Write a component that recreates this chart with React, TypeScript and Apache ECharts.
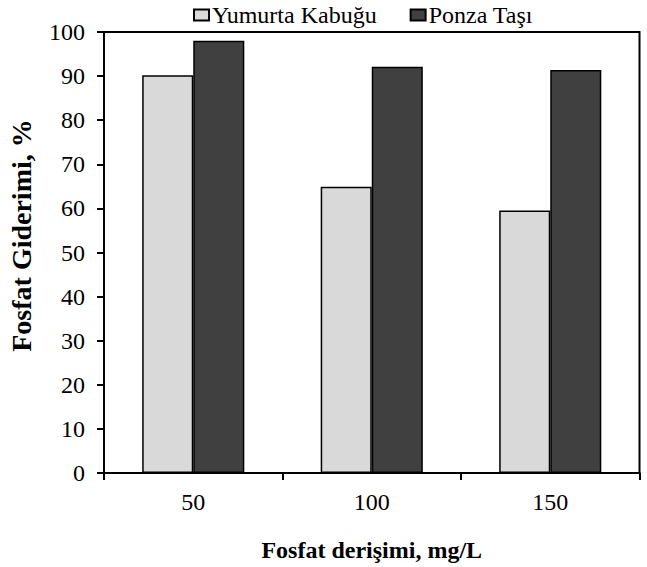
import React, { useEffect, useRef } from "react";
import * as echarts from "echarts";

const categories = ["50", "100", "150"];
const seriesNames = ["Yumurta Kabuğu", "Ponza Taşı"];
const yumurtaValues = [90.2, 64.9, 59.5];
const ponzaValues = [98.0, 92.1, 91.4];
const yTicks = { min: 0, max: 100, interval: 10 };

const FONT = "Liberation Serif";

export default function App() {
  const ref = useRef<HTMLDivElement>(null);
  useEffect(() => {
    if (!ref.current) return;
    const chart = echarts.init(ref.current, null, { renderer: "svg" });
    chart.setOption({
      animation: false,
      backgroundColor: "#ffffff",
      textStyle: { fontFamily: FONT, color: "#000" },
      legend: {
        data: seriesNames,
        left: 193,
        top: 3,
        padding: 0,
        itemWidth: 15,
        itemHeight: 11,
        itemGap: 33,
        icon: "rect",
        textStyle: { fontFamily: FONT, fontSize: 24, color: "#000", padding: [0, 0, 0, -2] },
      },
      grid: {
        left: 104,
        right: 7.5,
        top: 32,
        bottom: 94,
        show: true,
        borderColor: "#000",
        borderWidth: 2,
        backgroundColor: "transparent",
        containLabel: false,
        outerBoundsMode: "none",
      },
      xAxis: {
        type: "category",
        data: categories,
        name: "Fosfat derişimi, mg/L",
        nameLocation: "middle",
        nameGap: 65,
        nameTextStyle: { fontFamily: FONT, fontSize: 24, fontWeight: "bold", color: "#000" },
        axisLine: { lineStyle: { color: "#000", width: 2 } },
        axisTick: { show: true, alignWithLabel: false, length: 7, lineStyle: { color: "#000", width: 2 } },
        axisLabel: { fontFamily: FONT, fontSize: 24, color: "#000", margin: 17 },
      },
      yAxis: {
        type: "value",
        min: yTicks.min,
        max: yTicks.max,
        interval: yTicks.interval,
        name: "Fosfat Giderimi, %",
        nameLocation: "middle",
        nameRotate: 90,
        nameGap: 69,
        nameTextStyle: { fontFamily: FONT, fontSize: 28, fontWeight: "bold", color: "#000", padding: [0, 0, 0, 34] },
        splitLine: { show: false },
        axisLine: { show: true, lineStyle: { color: "#000", width: 2 } },
        axisTick: { show: true, length: 7, lineStyle: { color: "#000", width: 2 } },
        axisLabel: { fontFamily: FONT, fontSize: 24, color: "#000", margin: 19 },
      },
      series: [
        {
          name: seriesNames[0],
          type: "bar",
          data: yumurtaValues,
          barWidth: "28.6%",
          barGap: "0%",
          itemStyle: { color: "#d9d9d9", borderColor: "#000", borderWidth: 1.5 },
        },
        {
          name: seriesNames[1],
          type: "bar",
          data: ponzaValues,
          barWidth: "28.6%",
          barGap: "0%",
          itemStyle: { color: "#404040", borderColor: "#000", borderWidth: 1.5 },
        },
      ],
    });
    return () => chart.dispose();
  }, []);
  return <div ref={ref} style={{ width: 647, height: 567, position: "absolute", left: 0, top: 0 }} />;
}
